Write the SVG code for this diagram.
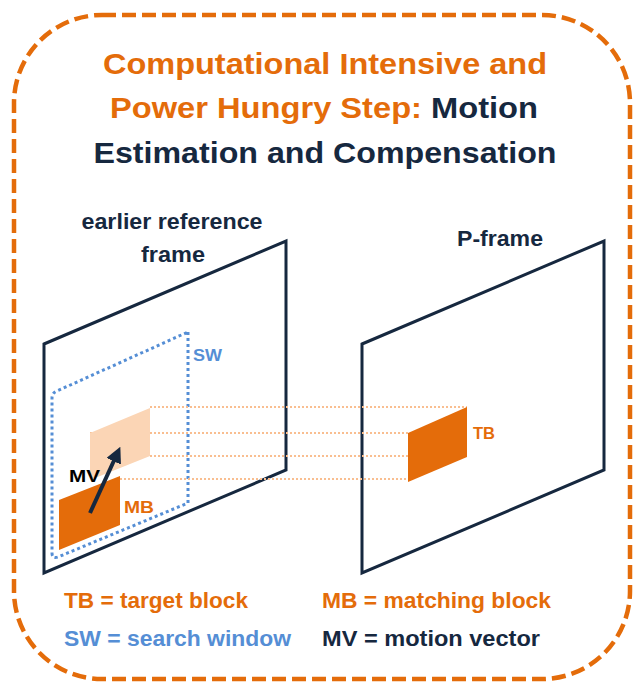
<svg xmlns="http://www.w3.org/2000/svg" width="633" height="683" viewBox="0 0 633 683">
  <style>
    text { font-family: "Liberation Sans", Arial, sans-serif; font-weight: bold; }
    .orange { fill: #E46C0A; }
    .navy { fill: #16283F; }
    .blue { fill: #558ED5; }
    .black { fill: #000000; }
    .frame { fill: #ffffff; stroke: #16283F; stroke-width: 3; stroke-linejoin: miter; }
    .guide { stroke: #F9BE90; stroke-width: 2; stroke-dasharray: 2 2; fill: none; }
  </style>
  <defs>
    <marker id="arrowhead" viewBox="0 0 10 10" refX="5" refY="5" markerWidth="4" markerHeight="4" orient="auto">
      <path d="M0,0 L10,5 L0,10 z" fill="#16283F"/>
    </marker>
  </defs>

  <!-- outer dashed container -->
  <rect x="14" y="15" width="616" height="664" rx="88" ry="88" fill="#ffffff" stroke="#E46C0A" stroke-width="4.5" stroke-dasharray="14 6"/>

  <!-- title -->
  <g id="title">
    <text class="orange" x="325" y="74" font-size="30" text-anchor="middle" textLength="444" lengthAdjust="spacingAndGlyphs">Computational Intensive and</text>
    <text x="324" y="118" font-size="30" text-anchor="middle" textLength="428" lengthAdjust="spacingAndGlyphs"><tspan class="orange">Power Hungry Step: </tspan><tspan class="navy">Motion</tspan></text>
    <text class="navy" x="325" y="163" font-size="30" text-anchor="middle" textLength="463" lengthAdjust="spacingAndGlyphs">Estimation and Compensation</text>
  </g>

  <!-- earlier reference frame -->
  <g id="reference-frame">
    <text class="navy" x="172" y="229" font-size="22" text-anchor="middle" textLength="181" lengthAdjust="spacingAndGlyphs">earlier reference</text>
    <text class="navy" x="173" y="262" font-size="22" text-anchor="middle" textLength="64" lengthAdjust="spacingAndGlyphs">frame</text>
    <polygon class="frame" points="44,344 286,241 286,470 44,573"/>
  </g>

  <!-- P-frame -->
  <g id="p-frame">
    <text class="navy" x="500" y="246" font-size="22" text-anchor="middle" textLength="86" lengthAdjust="spacingAndGlyphs">P-frame</text>
    <polygon class="frame" points="362,344 604,241 604,470 362,573"/>
  </g>

  <!-- search window -->
  <g id="search-window">
    <path d="M188,332 L188,503 L58,557 Q52,559 52,553 L52,398 Q52,393 57,391 Z" fill="none" stroke="#558ED5" stroke-width="3" stroke-dasharray="3 3"/>
    <text class="blue" x="193" y="361" font-size="17" textLength="29" lengthAdjust="spacingAndGlyphs">SW</text>
  </g>

  <!-- block correspondence guides -->
  <g id="connectors">
    <line class="guide" x1="150" y1="407" x2="467" y2="407"/>
    <line class="guide" x1="90" y1="433" x2="408" y2="433"/>
    <line class="guide" x1="150" y1="456" x2="408" y2="456"/>
    <line class="guide" x1="120" y1="479" x2="408" y2="479"/>
  </g>

  <!-- candidate block position in reference -->
  <g id="candidate-block">
    <polygon points="90,433 150,408 150,456 90,480" fill="#FBD5B5"/>
  </g>

  <!-- matching block -->
  <g id="matching-block">
    <polygon points="59,500 120,476 120,525 59,550" fill="#E46C0A"/>
    <text class="orange" x="124" y="513" font-size="17" textLength="30" lengthAdjust="spacingAndGlyphs">MB</text>
  </g>

  <!-- motion vector -->
  <g id="motion-vector">
    <line x1="90" y1="513" x2="117" y2="454" stroke="#16283F" stroke-width="4" marker-end="url(#arrowhead)"/>
    <text class="black" x="69" y="482" font-size="17" textLength="31" lengthAdjust="spacingAndGlyphs">MV</text>
  </g>

  <!-- target block -->
  <g id="target-block">
    <polygon points="408,433 467,407 467,457 408,482" fill="#E46C0A"/>
    <text class="orange" x="473" y="439" font-size="17" textLength="22" lengthAdjust="spacingAndGlyphs">TB</text>
  </g>

  <!-- legend -->
  <g id="legend">
    <text class="orange" x="64" y="608" font-size="22" textLength="184" lengthAdjust="spacingAndGlyphs">TB = target block</text>
    <text class="orange" x="322" y="608" font-size="22" textLength="229" lengthAdjust="spacingAndGlyphs">MB = matching block</text>
    <text class="blue" x="64" y="646" font-size="22" textLength="227" lengthAdjust="spacingAndGlyphs">SW = search window</text>
    <text class="navy" x="322" y="646" font-size="22" textLength="218" lengthAdjust="spacingAndGlyphs">MV = motion vector</text>
  </g>
</svg>
